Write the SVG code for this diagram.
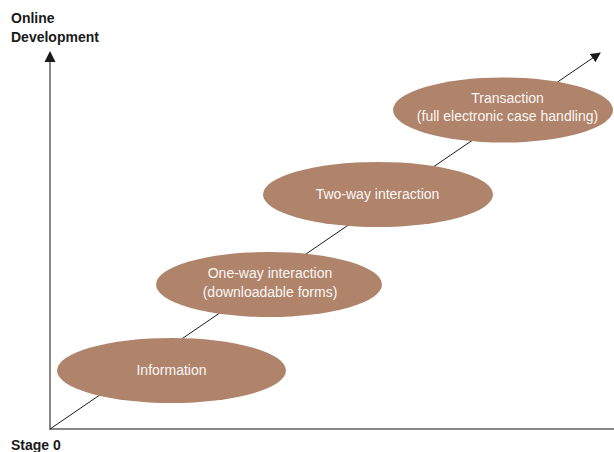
<svg xmlns="http://www.w3.org/2000/svg" width="614" height="452" viewBox="0 0 614 452">
<style>
.lbl{font-family:"Liberation Sans",Arial,sans-serif;font-size:14px;fill:#1a1a1a;font-weight:bold}
.nt{font-family:"Liberation Sans",Arial,sans-serif;font-size:14px;fill:#fbf7f4;text-anchor:middle}
.el{fill:#b0836b}
</style>
<defs>
<marker id="ah" viewBox="0 0 10 10" refX="9" refY="5" markerWidth="10" markerHeight="10" markerUnits="userSpaceOnUse" orient="auto">
<path d="M0,0 L10,5 L0,10 z" fill="#1a1a1a"/>
</marker>
</defs>
<rect width="614" height="452" fill="#ffffff"/>
<g id="connectors">
<line x1="50" y1="430" x2="50" y2="54" stroke="#888" stroke-width="2"/>
<path d="M44.5,62 L50,51 L55.5,62 z" fill="#1a1a1a"/>
<line x1="49" y1="429" x2="614" y2="429" stroke="#888" stroke-width="2"/>
<line x1="50" y1="429" x2="600" y2="53" stroke="#1a1a1a" stroke-width="1" marker-end="url(#ah)"/>
</g>
<g id="axis-labels">
<text class="lbl" x="11" y="23">Online</text>
<text class="lbl" x="11" y="42">Development</text>
<text class="lbl" x="11" y="450">Stage 0</text>
</g>
<g id="node-information">
<ellipse class="el" cx="171.5" cy="370.5" rx="114.5" ry="32.5"/>
<text class="nt" x="171.5" y="375">Information</text>
</g>
<g id="node-one-way">
<ellipse class="el" cx="269" cy="284.5" rx="113" ry="32.5"/>
<text class="nt" x="270" y="278">One-way interaction</text>
<text class="nt" x="270" y="297">(downloadable forms)</text>
</g>
<g id="node-two-way">
<ellipse class="el" cx="378" cy="194.5" rx="115" ry="32.5"/>
<text class="nt" x="377.5" y="199">Two-way interaction</text>
</g>
<g id="node-transaction">
<ellipse class="el" cx="503" cy="110" rx="110" ry="32.5"/>
<text class="nt" x="507.5" y="103">Transaction</text>
<text class="nt" x="507.5" y="121">(full electronic case handling)</text>
</g>
</svg>
